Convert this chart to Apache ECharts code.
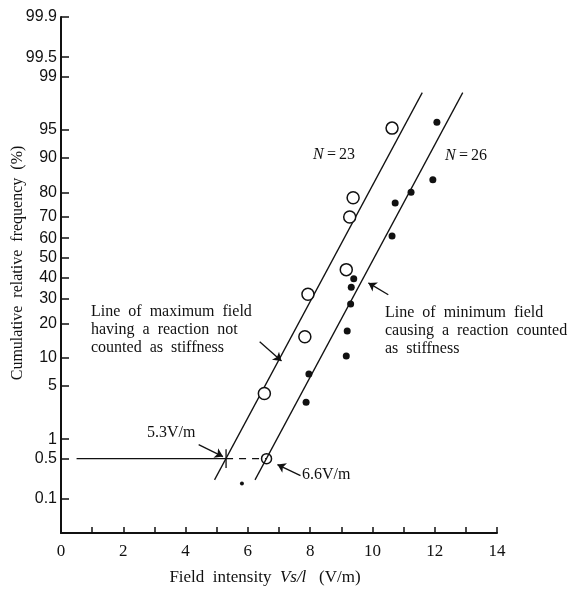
<!DOCTYPE html>
<html>
<head>
<meta charset="utf-8">
<title>Field intensity</title>
<script src="https://cdn.jsdelivr.net/npm/echarts@6.0.0/dist/echarts.min.js"></script>
<style>
  html, body { margin: 0; padding: 0; background: #fff; }
  #chart { width: 579px; height: 589px; }
</style>
</head>
<body>
<div id="chart"></div>
<script>
// probability paper tick labels (%)
const yTicks = [0.1, 0.5, 1, 5, 10, 20, 30, 40, 50, 60, 70, 80, 90, 95, 99, 99.5, 99.9]

// N=23, open circles (V/m, %)
const openX = [10.63, 9.38, 9.27, 9.16, 7.93, 7.83, 6.53]
const openY = [95.2, 78, 70, 44, 32, 15.6, 4.1]

// N=26, filled dots (V/m, %)
const dotX = [12.07, 11.94, 11.24, 10.73, 10.63, 9.40, 9.32, 9.30, 9.19, 9.16, 7.96, 7.87, 5.81]
const dotY = [95.9, 84.2, 80, 75.9, 61, 39.4, 35.3, 27.7, 17.4, 10.4, 6.8, 3.2, 0.19]

// fitted lines, end points [V/m, %]
const maxLine = [[4.93, 0.22], [11.6, 98.3]]
const minLine = [[6.23, 0.22], [12.9, 98.3]]

// 0.5 % reading
const level = 0.5
const levelFrom = 0.5
const maxAt = 5.3
const minAt = 6.6

// annotation arrows [from, to] in [V/m, %]
const arrows = [
	[[4.42, 0.83], [5.2, 0.54]],
	[[7.69, 0.26], [6.95, 0.40]],
	[[6.38, 14.1], [7.08, 9.3]],
	[[10.51, 31.8], [9.87, 37.4]]
]

// inverse normal cdf (Acklam), % -> probit
function probit(pct) {
	const p = pct / 100
	const a = [-3.969683028665376e+01, 2.209460984245205e+02, -2.759285104469687e+02, 1.383577518672690e+02, -3.066479806614716e+01, 2.506628277459239e+00]
	const b = [-5.447609879822406e+01, 1.615858368580409e+02, -1.556989798598866e+02, 6.680131188771972e+01, -1.328068155288572e+01]
	const c = [-7.784894002430293e-03, -3.223964580411365e-01, -2.400758277161838e+00, -2.549732539343734e+00, 4.374664141464968e+00, 2.938163982698783e+00]
	const d = [7.784695709041462e-03, 3.224671290700398e-01, 2.445134137142996e+00, 3.754408661907416e+00]
	const pl = 0.02425
	let q, r
	if (p < pl) {
		q = Math.sqrt(-2 * Math.log(p))
		return (((((c[0]*q+c[1])*q+c[2])*q+c[3])*q+c[4])*q+c[5]) / ((((d[0]*q+d[1])*q+d[2])*q+d[3])*q+1)
	}
	if (p > 1 - pl) {
		q = Math.sqrt(-2 * Math.log(1 - p))
		return -(((((c[0]*q+c[1])*q+c[2])*q+c[3])*q+c[4])*q+c[5]) / ((((d[0]*q+d[1])*q+d[2])*q+d[3])*q+1)
	}
	q = p - 0.5
	r = q * q
	return (((((a[0]*r+a[1])*r+a[2])*r+a[3])*r+a[4])*r+a[5])*q / (((((b[0]*r+b[1])*r+b[2])*r+b[3])*r+b[4])*r+1)
}

const pt = (x, pct) => [x, probit(pct)]
const tickVals = yTicks.map(probit)

const serif = 'Liberation Serif'
const sans = 'Liberation Sans'
const ink = '#111'

function segment(name, pts, style) {
	return {
		name: name,
		type: 'line',
		data: pts,
		symbol: 'none',
		silent: true,
		lineStyle: Object.assign({ color: ink, width: 1.3 }, style || {}),
		z: 3
	}
}

const chart = echarts.init(document.getElementById('chart'))

chart.setOption({
	animation: false,
	backgroundColor: '#fff',
	grid: {
		left: 61,
		right: 82,
		top: 17,
		bottom: 56
	},
	xAxis: {
		type: 'value',
		min: 0,
		max: 14,
		interval: 1,
		splitLine: { show: false },
		axisLine: { onZero: false, lineStyle: { color: ink, width: 2 } },
		axisTick: { inside: true, length: 6, lineStyle: { color: ink, width: 1.5 } },
		axisLabel: {
			margin: 10,
			color: ink,
			fontFamily: serif,
			fontSize: 17,
			formatter: v => (v % 2 === 0 ? String(v) : '')
		}
	},
	yAxis: {
		type: 'value',
		min: -3.53,
		max: probit(99.9),
		splitLine: { show: false },
		axisLine: { onZero: false, lineStyle: { color: ink, width: 2 } },
		axisTick: {
			inside: true,
			length: 8,
			customValues: tickVals,
			lineStyle: { color: ink, width: 1.5 }
		},
		axisLabel: {
			margin: 4,
			color: ink,
			fontFamily: sans,
			fontSize: 16,
			customValues: tickVals,
			formatter: v => {
				const i = tickVals.findIndex(t => Math.abs(t - v) < 1e-6)
				return i < 0 ? '' : String(yTicks[i])
			}
		}
	},
	series: [
		segment('max', maxLine.map(p => pt(p[0], p[1]))),
		segment('min', minLine.map(p => pt(p[0], p[1]))),
		segment('level', [pt(levelFrom, level), pt(maxAt, level)]),
		segment('levelDash', [pt(maxAt, level), pt(minAt, level)], { type: [7, 6] }),
		segment('cross', [[maxAt, probit(level) + 0.12], [maxAt, probit(level) - 0.12]]),
		{
			name: 'N=23',
			type: 'scatter',
			data: openX.map((x, i) => pt(x, openY[i])),
			symbol: 'circle',
			symbolSize: 12,
			itemStyle: { color: '#fff', borderColor: ink, borderWidth: 1.5, opacity: 1 },
			z: 4
		},
		{
			name: 'N=26',
			type: 'scatter',
			data: dotX.map((x, i) => pt(x, dotY[i])),
			symbol: 'circle',
			symbolSize: v => (v[1] < -2.7 ? 4 : 7),
			itemStyle: { color: ink, opacity: 1 },
			z: 4
		},
		{
			name: 'mark',
			type: 'scatter',
			data: [pt(minAt, level)],
			symbol: 'circle',
			symbolSize: 10,
			itemStyle: { color: 'rgba(0,0,0,0)', borderColor: ink, borderWidth: 1.5, opacity: 1 },
			z: 5
		},
		{
			name: 'arrows',
			type: 'lines',
			coordinateSystem: 'cartesian2d',
			silent: true,
			symbol: ['none', 'arrow'],
			symbolSize: [0, 8],
			lineStyle: { color: ink, width: 1.3, opacity: 1 },
			data: arrows.map(a => ({ coords: [pt(a[0][0], a[0][1]), pt(a[1][0], a[1][1])] })),
			z: 5
		}
	],
	graphic: [
		{
			type: 'text',
			x: 18,
			y: 263,
			rotation: Math.PI / 2,
			style: {
				text: 'Cumulative  relative  frequency  (%)',
				fontFamily: serif,
				fontSize: 16,
				fill: ink,
				align: 'center',
				verticalAlign: 'middle'
			}
		},
		{
			type: 'text',
			x: 265,
			y: 578,
			style: {
				text: 'Field  intensity  {i|Vs/l}   (V/m)',
				fontFamily: serif,
				fontSize: 17,
				fill: ink,
				align: 'center',
				verticalAlign: 'middle',
				rich: { i: { fontFamily: serif, fontSize: 17, fontStyle: 'italic', fill: ink } }
			}
		},
		{
			type: 'text',
			x: 91,
			y: 303,
			style: {
				text: 'Line  of  maximum  field\nhaving  a  reaction  not\ncounted  as  stiffness',
				fontFamily: serif,
				fontSize: 16,
				lineHeight: 18,
				fill: ink,
				align: 'left',
				verticalAlign: 'top'
			}
		},
		{
			type: 'text',
			x: 385,
			y: 304,
			style: {
				text: 'Line  of  minimum  field\ncausing  a  reaction  counted\nas  stiffness',
				fontFamily: serif,
				fontSize: 16,
				lineHeight: 18,
				fill: ink,
				align: 'left',
				verticalAlign: 'top'
			}
		},
		{
			type: 'text',
			x: 313,
			y: 155,
			style: {
				text: '{i|N}\u2009=\u200923',
				fontFamily: serif,
				fontSize: 16,
				fill: ink,
				verticalAlign: 'middle',
				rich: { i: { fontFamily: serif, fontSize: 16, fontStyle: 'italic', fill: ink } }
			}
		},
		{
			type: 'text',
			x: 445,
			y: 156,
			style: {
				text: '{i|N}\u2009=\u200926',
				fontFamily: serif,
				fontSize: 16,
				fill: ink,
				verticalAlign: 'middle',
				rich: { i: { fontFamily: serif, fontSize: 16, fontStyle: 'italic', fill: ink } }
			}
		},
		{
			type: 'text',
			x: 147,
			y: 433,
			style: { text: '5.3V/m', fontFamily: serif, fontSize: 16, fill: ink, verticalAlign: 'middle' }
		},
		{
			type: 'text',
			x: 302,
			y: 475,
			style: { text: '6.6V/m', fontFamily: serif, fontSize: 16, fill: ink, verticalAlign: 'middle' }
		}
	]
})
</script>
</body>
</html>
